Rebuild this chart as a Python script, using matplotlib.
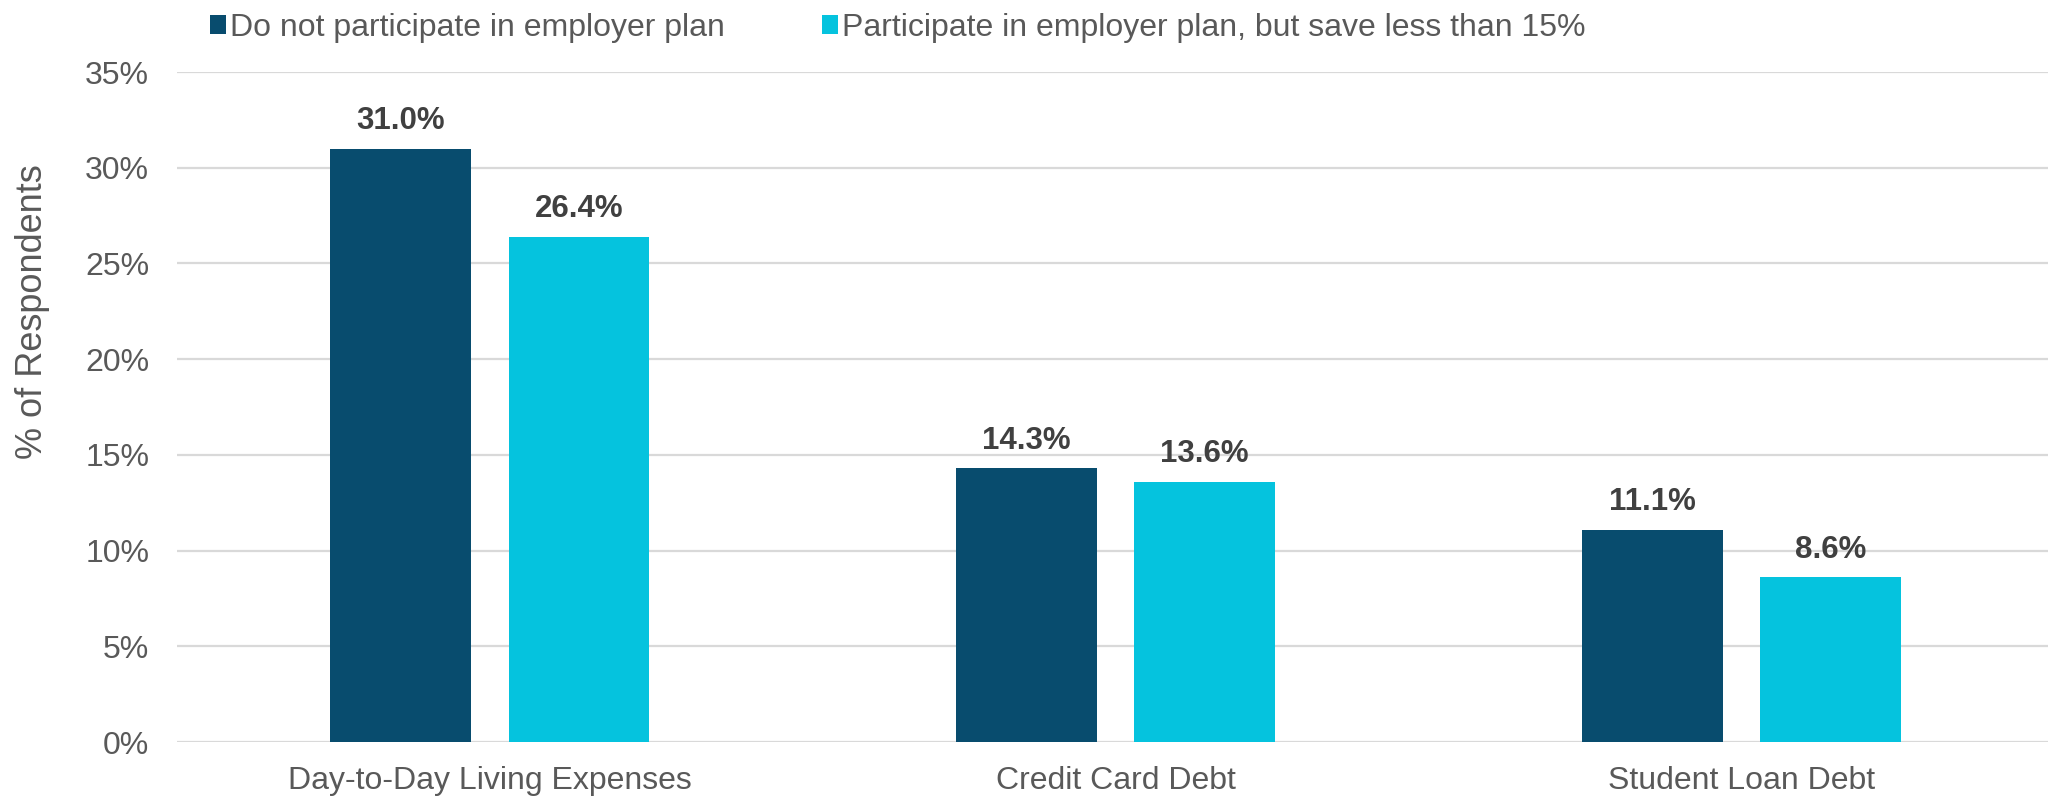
import matplotlib
matplotlib.use("Agg")
import matplotlib.pyplot as plt
import numpy as np

categories = ["Day-to-Day Living Expenses", "Credit Card Debt", "Student Loan Debt"]
series_names = ["Do not participate in employer plan",
                "Participate in employer plan, but save less than 15%"]
no_plan = [31.0, 14.3, 11.1]
under_15 = [26.4, 13.6, 8.6]
yticks = [0, 5, 10, 15, 20, 25, 30, 35]

colors = ["#084C6E", "#05C3DE"]
plt.rcParams['font.family'] = ['Liberation Sans', 'DejaVu Sans']

fig = plt.figure(figsize=(20.48, 7.97), dpi=100)
ax = fig.add_axes([177/2048, 55/797, 1 - 177/2048, 670/797])

x = np.arange(len(categories))
w = 0.225
off = 0.1425
b1 = ax.bar(x - off, no_plan, w, color=colors[0], label=series_names[0], zorder=3)
b2 = ax.bar(x + off, under_15, w, color=colors[1], label=series_names[1], zorder=3)

for bars in (b1, b2):
    ax.bar_label(bars, labels=[f"{v:.1f}%" for v in bars.datavalues], padding=9,
                 fontsize=22.5, fontweight='bold', color='#404040')

ax.set_ylim(0, 35)
ax.set_xlim(-0.5, 2.49)
ax.set_yticks(yticks)
ax.set_yticklabels([f"{t}%" for t in yticks])
ax.set_xticks(x)
ax.set_xticklabels(categories)
ax.tick_params(axis='both', length=0, labelsize=23, labelcolor='#595959')
ax.tick_params(axis='y', pad=20)
ax.tick_params(axis='x', pad=17)
ax.grid(axis='y', color='#D9D9D9', linewidth=1.6, zorder=0)
for s in ax.spines.values():
    s.set_visible(False)

fig.text(33/2048, 1 - 312/797, "% of Respondents", rotation=90, fontsize=26,
         color='#595959', ha='center', va='center')

fig.legend(handles=[b1, b2], loc='upper left', bbox_to_anchor=(197/2048, 1.0),
           ncol=2, frameon=False, fontsize=23, labelcolor='#595959',
           handlelength=0.5, handleheight=0.5, handletextpad=0.12,
           columnspacing=3.05, borderpad=0.4, borderaxespad=0)

fig.savefig("out.png", dpi=100)
